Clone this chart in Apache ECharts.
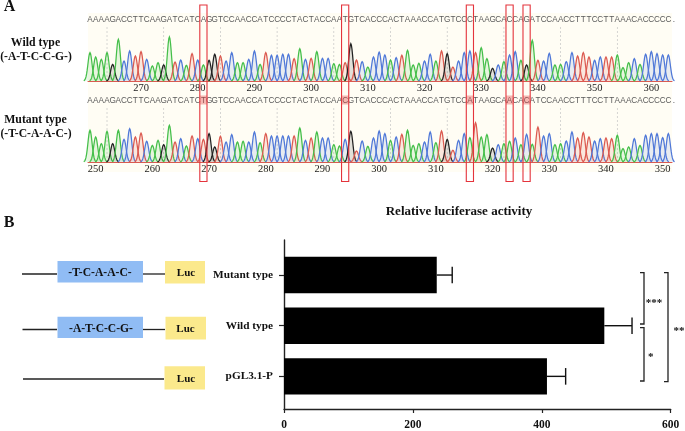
<!DOCTYPE html>
<html><head><meta charset="utf-8">
<style>html,body{margin:0;padding:0;background:#fff}#c{width:685px;height:431px}</style>
<script src="https://cdn.jsdelivr.net/npm/echarts@6/dist/echarts.min.js"></script>
</head><body><div id="c"></div>
<script>
// ---- chromatogram data: called base and peak height read per base ----
const wildSeq   = "AAAAGACCTTCAAGATCATCAGGTCCAACCATCCCCTACTACCAATGTCACCCACTAAACCATGTCCCTAAGCACCAGATCCAACCTTTCCTTAAACACCCCC.";
const mutantSeq = "AAAAGACCTTCAAGATCATCTGGTCCAACCATCCCCTACTACCAACGTCACCCACTAAACCATGTCCATAAGCAACACATCCAACCTTTCCTTAAACACCCCC.";
const wildHeights = [85,72,65,85,50,125,60,90,75,88,65,45,55,48,132,57,63,47,82,63,48,62,80,75,60,85,55,55,65,90,50,85,77,77,
  80,80,67,97,65,68,88,68,68,52,50,55,112,63,58,42,72,87,78,63,70,77,92,48,53,60,80,60,90,82,42,60,85,90,
  85,100,67,38,48,58,78,88,62,48,122,62,60,83,48,50,58,85,75,85,72,62,72,72,72,78,40,55,67,50,80,88,82,78,78];
const mutantHeights = [95,75,55,92,55,95,68,100,75,87,62,50,65,52,110,60,70,48,78,70,68,85,45,77,60,82,60,62,60,90,58,85,78,78,
  78,78,78,102,65,72,90,72,72,52,48,68,92,33,63,47,72,93,85,65,75,83,95,50,55,60,90,58,93,68,35,65,85,73,
  118,75,82,42,52,55,62,72,52,83,53,105,78,85,52,55,63,90,72,88,75,63,70,72,70,80,40,45,70,50,80,85,85,73,85];
const wildStart = 261, mutantStart = 249;          // position number of the first called base
const wildRuler = [270,280,290,300,310,320,330,340,350,360];
const mutantRuler = [250,260,270,280,290,300,310,320,330,340,350];
const guideBases = [3,13,23,33,43,53,63,73,83,93];
const changedBases = [20,45,67,74,77];

// ---- luciferase bars ----
const categories = ["Mutant type","Wild type","pGL3.1-P"];
const activity = [237,497,408];
const errorTop = [261,540,437];
const xTicks = [0,200,400,600];

const SERIF = "Liberation Serif";
const colour = {A:"#45bf4a",C:"#4f78d8",G:"#222222",T:"#dc5a50"};
const PX_PER_BASE = 5.67, LEFT = 88, WIDTH = 584;

function peakRenderer(seq){
  return function(params, api){
    const v = api.value(0), h = api.value(1), ch = seq[api.value(2)];
    const base = api.coord([v,0]), kids = [];
    if(h > 0){
      const pts = [];
      for(let t=-1.1; t<=1.101; t+=0.1){ pts.push(api.coord([v+t, h*Math.exp(-t*t/(2*0.36*0.36))])); }
      const c = colour[ch];
      kids.push({type:"polygon",shape:{points:pts},style:{fill:c,opacity:0.13,stroke:null}});
      kids.push({type:"polyline",shape:{points:pts},style:{stroke:c,lineWidth:1.25,fill:null}});
    }
    kids.push({type:"text",style:{text:ch,x:base[0],y:base[1]-61.3,align:"center",verticalAlign:"middle",
      font:"8.2px 'Liberation Sans'",fill:"#5a5a5a"}});
    return {type:"group",children:kids};
  };
}
function guideRenderer(params, api){
  const p = api.coord([api.value(0),0]);
  return {type:"line",shape:{x1:p[0],y1:p[1],x2:p[0],y2:p[1]-56},style:{stroke:"#c4c4c4",lineWidth:0.7,lineDash:[2,2]}};
}
function errRenderer(params, api){
  const a = api.coord([api.value(0),api.value(2)]), b = api.coord([api.value(1),api.value(2)]);
  const st = {stroke:"#111",lineWidth:1.4};
  return {type:"group",children:[
    {type:"line",shape:{x1:a[0],y1:a[1],x2:b[0],y2:b[1]},style:st},
    {type:"line",shape:{x1:b[0],y1:b[1]-8.3,x2:b[0],y2:b[1]+8.3},style:st}]};
}
const rows = (seq,heights,start)=>Array.from(seq,(c,i)=>[start+i,heights[i]||0,i]);
function traceAxis(i,start,ruler){
  const min = start-2/PX_PER_BASE;
  return {type:"value",gridIndex:i,min:min,max:min+WIDTH/PX_PER_BASE,
    axisLine:{show:true,onZero:false,lineStyle:{color:"#dc5a50",width:1.1}},axisTick:{show:false},splitLine:{show:false},
    axisLabel:{show:true,customValues:ruler,margin:2,color:"#222",fontFamily:SERIF,fontSize:10.5,hideOverlap:false}};
}
const hiddenY = i=>({type:"value",gridIndex:i,min:0,max:204,show:false});
const txt = (t,x,y,size,extra)=>Object.assign({type:"text",z:50,style:{text:t,x:x,y:y,align:"center",verticalAlign:"middle",
  font:"bold "+size+"px '"+SERIF+"'",fill:"#111"}},extra||{});
const hline = (x1,x2,y,w)=>({type:"line",z:5,shape:{x1:x1,y1:y,x2:x2,y2:y},style:{stroke:"#222",lineWidth:w||1.3}});
const box = (x1,x2,y1,y2,fill)=>({type:"rect",z:6,shape:{x:x1,y:y1,width:x2-x1,height:y2-y1},style:{fill:fill}});
const BLUE="#90bcf4", YEL="#fbe98c";
function bracket(x,y1,y2){
  return {type:"polyline",z:6,shape:{points:[[x-4,y1],[x,y1],[x,y2],[x-4,y2]]},style:{stroke:"#222",lineWidth:1.3,fill:null}};
}
const chart = echarts.init(document.getElementById("c"),null,{renderer:"canvas"});
chart.setOption({
  animation:false,backgroundColor:"#fff",
  grid:[
    {left:LEFT,width:WIDTH,top:13,height:68},
    {left:LEFT,width:WIDTH,top:94,height:68},
    {left:284,width:386.7,top:249.7,height:152},
    {left:284,width:386.7,top:240,height:170.7}
  ],
  xAxis:[
    traceAxis(0,wildStart,wildRuler),
    traceAxis(1,mutantStart,mutantRuler),
    {type:"value",gridIndex:2,min:0,max:600,show:false},
    {type:"value",gridIndex:3,min:0,max:600,interval:200,splitLine:{show:false},
      axisLine:{show:true,lineStyle:{color:"#222",width:1.4}},
      axisTick:{show:true,length:4,lineStyle:{color:"#222",width:1.2}},
      axisLabel:{margin:10,color:"#111",fontFamily:SERIF,fontWeight:"bold",fontSize:11.5,customValues:xTicks}}
  ],
  yAxis:[
    hiddenY(0),hiddenY(1),
    {type:"category",gridIndex:2,inverse:true,data:categories,
      axisLine:{show:false},axisTick:{show:true,length:5,alignWithLabel:true,lineStyle:{color:"#222",width:1.2}},
      axisLabel:{margin:11,color:"#111",fontFamily:SERIF,fontWeight:"bold",fontSize:11.3}},
    {type:"value",gridIndex:3,min:0,max:1,axisLabel:{show:false},axisTick:{show:false},splitLine:{show:false},
      axisLine:{show:true,lineStyle:{color:"#222",width:1.4}}}
  ],
  series:[
    {type:"custom",xAxisIndex:0,yAxisIndex:0,clip:false,z:2,renderItem:guideRenderer,data:guideBases.map(i=>[wildStart+i,0])},
    {type:"custom",xAxisIndex:1,yAxisIndex:1,clip:false,z:2,renderItem:guideRenderer,data:guideBases.map(i=>[mutantStart+i,0])},
    {type:"custom",xAxisIndex:0,yAxisIndex:0,clip:false,z:3,renderItem:peakRenderer(wildSeq),data:rows(wildSeq,wildHeights,wildStart)},
    {type:"custom",xAxisIndex:1,yAxisIndex:1,clip:false,z:3,renderItem:peakRenderer(mutantSeq),data:rows(mutantSeq,mutantHeights,mutantStart)},
    {type:"bar",xAxisIndex:2,yAxisIndex:2,data:activity,barWidth:36.4,itemStyle:{color:"#000"},z:3},
    {type:"custom",xAxisIndex:2,yAxisIndex:2,clip:false,z:4,renderItem:errRenderer,
      data:activity.map((v,i)=>[v,errorTop[i],i])}
  ]
});
const boxes = changedBases.map(i=>chart.convertToPixel({xAxisIndex:0},wildStart+i));
const els = [
  {type:"rect",z:-1,shape:{x:LEFT,y:13,width:WIDTH,height:159},style:{fill:"#fffdf4"}},
  txt("A",9.5,7,16), txt("B",9,223,16),
  txt("Wild type",35.5,42.5,11.8), txt("(-A-T-C-C-G-)",36,57,11.6),
  txt("Mutant type",35.5,119.5,11.8), txt("(-T-C-A-A-C-)",36,133.5,11.6),
  txt("Relative luciferase activity",459,212,13),
  hline(22,57,274), box(57.5,143,261,282.5,BLUE), hline(143,165,274), box(165,205,261,283.6,YEL),
  txt("-T-C-A-A-C-",100,273,11.6), txt("Luc",186,273,11), 
  hline(22.5,57,329.5), box(57.5,143,316.7,338,BLUE), hline(143,165,329.5), box(165.5,206,316.7,339.5,YEL),
  txt("-A-T-C-C-G-",101,328.5,11.6), txt("Luc",185.5,329,11),
  hline(23,164,379), box(164.5,205,366.3,389.5,YEL), txt("Luc",186,379,11),
  bracket(644,272.7,324), txt("***",654,303,11), 
  bracket(644,327.7,381), txt("*",650.7,357,11),
  bracket(668,272.7,381.7), txt("**",679,331,11)
];
boxes.forEach(x=>{
  els.push({type:"rect",z:40,shape:{x:x-3.6,y:95.5,width:7.2,height:9},style:{fill:"rgba(230,70,70,0.38)"}});
  els.push({type:"rect",z:41,shape:{x:x-3.6,y:5,width:7.2,height:176.5},style:{fill:null,stroke:"#e4343c",lineWidth:1.1}});
});
chart.setOption({graphic:{elements:els}});
</script></body></html>
